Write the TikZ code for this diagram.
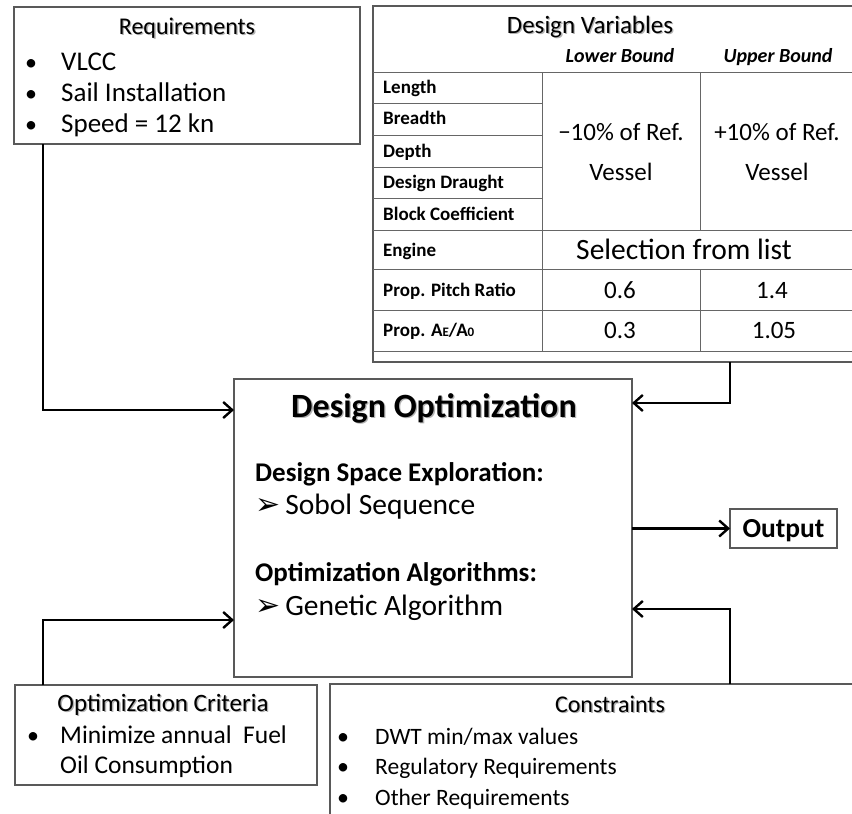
\documentclass[tikz,border=0pt]{standalone}
\usepackage{fontspec}
\setmainfont{Carlito}
\newfontfamily\dejavu{DejaVu Sans}
\usetikzlibrary{arrows.meta}
\newcommand\fsz[1]{\fontsize{#1}{#1}\selectfont}
\newcommand\shd[1]{\makebox[0pt][l]{\hspace{1.3pt}\raisebox{-1.3pt}{\textcolor{black!30}{#1}}}#1}
\begin{document}
\begin{tikzpicture}[x=1pt,y=-1pt,
  box/.style={draw=black!65, line width=1.2pt, inner sep=0pt, outer sep=0pt, anchor=north west},
  tl/.style={draw=black!60, line width=0.9pt},
  arr/.style={line width=2.8pt, -{Straight Barb[length=9pt,width=16pt,line width=2.4pt]}},
  txt/.style={inner sep=0pt, anchor=base west},
  ctxt/.style={inner sep=0pt, anchor=base}]
\useasboundingbox (0,0) rectangle (852,814);
% boxes
\node[box, minimum width=346pt, minimum height=137pt] (req) at (14,7) {};
\node[box, minimum width=490pt, minimum height=356pt] (dv) at (373,6) {};
\node[box, minimum width=398pt, minimum height=298pt] (do) at (234,379) {};
\node[box, minimum width=107pt, minimum height=39pt] (out) at (730,509) {};
\node[box, minimum width=302pt, minimum height=100pt] (crit) at (15,685) {};
\node[box, minimum width=530pt, minimum height=140pt] (con) at (330,684) {};
% requirements
\node[ctxt, font=\fsz{24}] (reqT) at (187,34) {\shd{Requirements}};
\node[txt, font=\fsz{24}] (rb1) at (25,70) {•};
\node[txt, font=\fsz{24}] (rb2) at (25,101) {•};
\node[txt, font=\fsz{24}] (rb3) at (25,132) {•};
\node[txt, font=\fsz{27}] (r1) at (61,70) {VLCC};
\node[txt, font=\fsz{27}] (r2) at (61,101) {Sail Installation};
\node[txt, font=\fsz{27}] (r3) at (61,132) {Speed = 12 kn};
% design variables table
\node[ctxt, font=\fsz{25}] (dvT) at (590,33) {\shd{Design Variables}};
\node[ctxt, font=\fsz{20}\bfseries\itshape] (lb) at (620,62) {Lower Bound};
\node[ctxt, font=\fsz{20}\bfseries\itshape] (ub) at (778,62) {Upper Bound};
\draw[tl] (373,72) -- (860,72);
\draw[tl] (542,72) -- (542,351);
\draw[tl] (700,72) -- (700,230);
\draw[tl] (700,269) -- (700,351);
\foreach \yy in {103,135,167,198} \draw[tl] (373,\yy) -- (542,\yy);
\foreach \yy in {230,269,310,351} \draw[tl] (373,\yy) -- (860,\yy);
\node[txt, font=\fsz{19}\bfseries] (v1) at (383,93) {Length};
\node[txt, font=\fsz{19}\bfseries] (v2) at (383,124) {Breadth};
\node[txt, font=\fsz{19}\bfseries] (v3) at (383,157) {Depth};
\node[txt, font=\fsz{19}\bfseries] (v4) at (383,188) {Design Draught};
\node[txt, font=\fsz{19}\bfseries] (v5) at (383,220) {Block Coefficient};
\node[txt, font=\fsz{19}\bfseries] (v6) at (383,256) {Engine};
\node[txt, font=\fsz{19}\bfseries] (v7) at (383,296) {Prop. Pitch Ratio};
\node[txt, font=\fsz{19}\bfseries] (v8) at (383,336) {Prop. A{\fsz{13}E}/A{\fsz{13}0}};
\node[ctxt, font=\fsz{25}] (lo1) at (621,140) {−10\% of Ref.};
\node[ctxt, font=\fsz{25}] (lo2) at (621,180) {Vessel};
\node[ctxt, font=\fsz{25}] (up1) at (777,140) {+10\% of Ref.};
\node[ctxt, font=\fsz{25}] (up2) at (777,180) {Vessel};
\node[ctxt, font=\fsz{29.5}] (sel) at (684,259) {Selection from list};
\node[ctxt, font=\fsz{25}] (p1) at (620,298) {0.6};
\node[ctxt, font=\fsz{25}] (p2) at (772,298) {1.4};
\node[ctxt, font=\fsz{25}] (a1) at (620,338) {0.3};
\node[ctxt, font=\fsz{25}] (a2) at (774,338) {1.05};
% design optimization
\node[ctxt, font=\fsz{34}\bfseries] (doT) at (434,417) {\shd{Design Optimization}};
\node[txt, font=\fsz{27}\bfseries] (dse) at (255,481) {Design Space Exploration:};
\node[txt, font=\fsz{29.5}] (sob) at (255,514) {{\dejavu\fsz{30}➢}\,Sobol Sequence};
\node[txt, font=\fsz{27}\bfseries] (oa) at (255,581) {Optimization Algorithms:};
\node[txt, font=\fsz{29.5}] (ga) at (255,615) {{\dejavu\fsz{30}➢}\,Genetic Algorithm};
% output
\node[ctxt, font=\fsz{27.5}\bfseries] (outT) at (783.5,537) {Output};
% criteria
\node[ctxt, font=\fsz{25}] (critT) at (163,711) {\shd{Optimization Criteria}};
\node[txt, font=\fsz{24}] (cb1) at (27,743) {•};
\node[txt, font=\fsz{25.5}] (c1) at (60,743) {Minimize annual\ \ Fuel};
\node[txt, font=\fsz{25.5}] (c2) at (60,773) {Oil Consumption};
% constraints
\node[ctxt, font=\fsz{24}] (conT) at (610,712) {\shd{Constraints}};
\node[txt, font=\fsz{24}] (kb1) at (337,744) {•};
\node[txt, font=\fsz{24}] (kb2) at (337,774) {•};
\node[txt, font=\fsz{24}] (kb3) at (337,805) {•};
\node[txt, font=\fsz{23.5}] (k1) at (375,744) {DWT min/max values};
\node[txt, font=\fsz{23.5}] (k2) at (375,774) {Regulatory Requirements};
\node[txt, font=\fsz{23.5}] (k3) at (375,805) {Other Requirements};
% connectors
\coordinate (j1) at (43,410);
\coordinate (j2) at (730,403);
\coordinate (j3) at (730,609);
\coordinate (j4) at (43,620);
\coordinate (j5) at (632,528.5);
\draw[arr] (req.south -| j1) |- (do.west |- j1);
\draw[arr] (dv.south -| j2) |- (do.east |- j2);
\draw[arr] (con.north -| j3) |- (do.east |- j3);
\draw[arr] (crit.north -| j4) |- (do.west |- j4);
\draw[arr] (j5) -- (out.west);
\end{tikzpicture}
\end{document}
